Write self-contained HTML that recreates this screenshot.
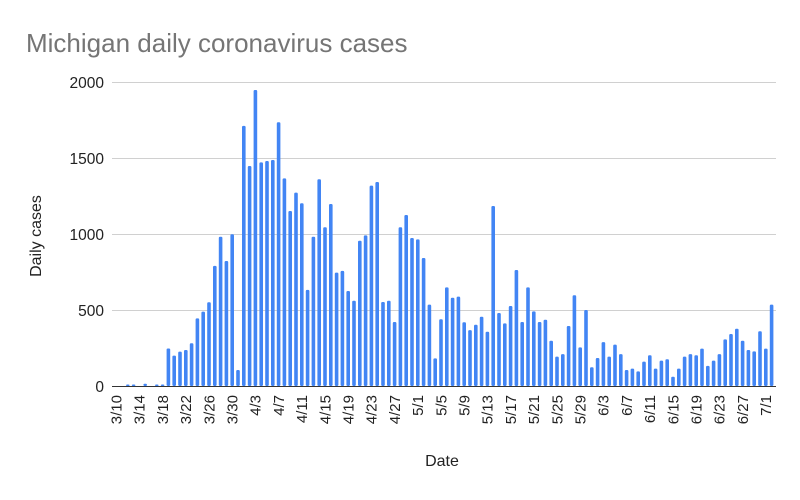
<!DOCTYPE html>
<html><head><meta charset="utf-8"><style>html,body{margin:0;padding:0;background:#fff}</style></head>
<body>
<svg id="c" width="800" height="495" xmlns="http://www.w3.org/2000/svg" font-family="Liberation Sans, Arial, sans-serif">
<rect width="800" height="495" fill="#fff"/>
<text x="26" y="52" font-size="26" fill="#757575">Michigan daily coronavirus cases</text>
<g stroke="#d0d0d0" stroke-width="1">
<line x1="112" x2="776" y1="82.5" y2="82.5"/>
<line x1="112" x2="776" y1="158.5" y2="158.5"/>
<line x1="112" x2="776" y1="234.5" y2="234.5"/>
<line x1="112" x2="776" y1="310.5" y2="310.5"/>
</g>
<g font-size="15.5" fill="#222" text-anchor="end">
<text x="104" y="88">2000</text>
<text x="104" y="164">1500</text>
<text x="104" y="240">1000</text>
<text x="104" y="316">500</text>
<text x="104" y="392">0</text>
</g>
<text transform="translate(41,236) rotate(-90)" font-size="16" fill="#222" text-anchor="middle">Daily cases</text>
<text x="442" y="466" font-size="16" fill="#222" text-anchor="middle">Date</text>
<g id="bars" fill="#4285f4"></g>
<line x1="112" x2="776" y1="386.5" y2="386.5" stroke="#333" stroke-width="1"/>
<g id="labels" font-size="15" fill="#222" text-anchor="end"></g>
</svg>
<script>
var v=[0,5,5,0,15,0,5,5,247,200,226,237,281,445,489,551,790,982,822,998,105,1711,1447,1947,1471,1480,1487,1735,1366,1151,1272,1202,632,982,1360,1044,1197,746,757,625,561,956,991,1318,1342,553,561,421,1044,1125,974,965,842,535,182,439,649,581,588,419,368,403,456,357,1184,480,412,526,763,421,649,491,421,436,298,193,210,395,597,254,500,123,184,289,193,272,210,105,114,96,160,202,114,167,176,61,114,193,210,202,246,132,167,210,307,342,377,298,237,228,360,246,535];
var b=document.getElementById('bars'),l=document.getElementById('labels'),ns='http://www.w3.org/2000/svg';
var dates=[];var m=[[3,10,31],[4,1,30],[5,1,30],[6,1,30],[7,1,31]];
for(var k=0;k<m.length;k++){for(var d=m[k][1];d<=m[k][2];d++)dates.push(m[k][0]+'/'+d);}
for(var i=0;i<v.length;i++){var x=122+i*5.8;var h=v[i]*0.152;
 if(h>0){var r=document.createElementNS(ns,'rect');r.setAttribute('x',x-1.8);r.setAttribute('width',3.6);r.setAttribute('y',386-Math.max(h,1.5));r.setAttribute('height',Math.max(h,1.5));r.setAttribute('rx',1.2);b.appendChild(r);}
 if(i%4==0){var t=document.createElementNS(ns,'text');t.setAttribute('transform','translate('+(x-0.5)+',395) rotate(-90)');t.textContent=dates[i];l.appendChild(t);}
}
</script>
</body></html>
